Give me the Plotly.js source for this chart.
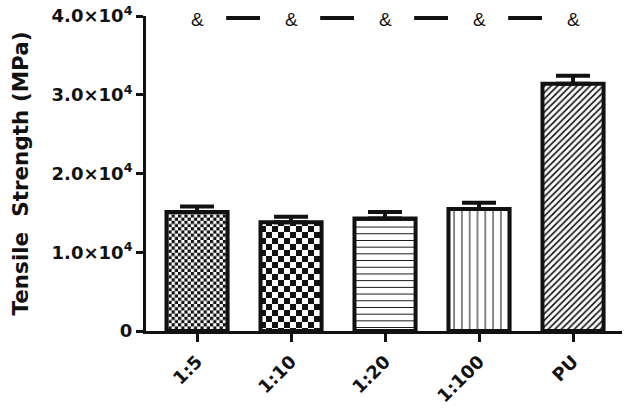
<!DOCTYPE html>
<html>
<head>
<meta charset="utf-8">
<script src="https://cdn.plot.ly/plotly-3.0.1.min.js"></script>
<style>html,body{margin:0;padding:0;background:#fff;}#chart{width:629px;height:409px;}</style>
</head>
<body>
<div id="chart"></div>
<script>
const categories = ["1:5", "1:10", "1:20", "1:100", "PU"];
const strength = [15100, 13800, 14300, 15500, 31400];
const strengthErr = [700, 700, 800, 800, 1000];
const patterns = [".", ".", "-", "|", "/"];
const patternSizes = [6.4, 12, 6.7, 7.8, 4.6];
const patternSolidity = [0.5, 0.5, 0.15, 0.13, 0.35];
const sigMarks = ["&", "&", "&", "&", "&"];
const yTickVals = [0, 10000, 20000, 30000, 40000];
const yTickText = ["0", "1.0×10<sup>4</sup>", "2.0×10<sup>4</sup>", "3.0×10<sup>4</sup>", "4.0×10<sup>4</sup>"];
const sigLevel = 39500;
const checkerTiles = [6.4, 12];

const idx = categories.map((c, i) => i);
const boldFont = "DejaVu Sans, Verdana, sans-serif";

const barTrace = {
  type: "bar",
  x: idx,
  y: strength,
  width: 0.65,
  marker: {
    color: "#ffffff",
    line: {color: "#111111", width: 4},
    pattern: {shape: patterns, size: patternSizes, solidity: patternSolidity, fgcolor: "#111111", bgcolor: "#ffffff", fillmode: "replace"}
  },
  error_y: {type: "data", array: strengthErr, arrayminus: strengthErr.map(() => 0), symmetric: false, color: "#111111", thickness: 4, width: 17},
  hoverinfo: "skip",
  showlegend: false
};

const dashX = [], dashY = [];
for (let i = 0; i < categories.length - 1; i++) {
  dashX.push(i + 0.31, i + 0.67, null);
  dashY.push(sigLevel + 250, sigLevel + 250, null);
}
const dashTrace = {
  type: "scatter", mode: "lines", x: dashX, y: dashY,
  line: {color: "#111111", width: 4}, hoverinfo: "skip", showlegend: false, cliponaxis: false
};

const annotations = sigMarks.map((m, i) => ({
  x: i, y: sigLevel, xref: "x", yref: "y", text: m, showarrow: false,
  font: {family: "Liberation Sans, Arial, sans-serif", size: 19, color: "#111111"},
  yanchor: "middle"
}));

const layout = {
  width: 629, height: 409,
  margin: {l: 146, r: 7, t: 16, b: 78},
  paper_bgcolor: "#ffffff", plot_bgcolor: "#ffffff",
  font: {family: boldFont, color: "#111111"},
  xaxis: {
    range: [-0.543, 4.521],
    tickvals: idx, ticktext: categories.map(c => "<b>" + c + "</b>"),
    tickangle: -45,
    ticks: "outside", ticklen: 8, tickwidth: 3, tickcolor: "#111111",
    ticklabelstandoff: 2,
    showline: true, linecolor: "#111111", linewidth: 3,
    showgrid: false, zeroline: false,
    tickfont: {family: boldFont, size: 18, color: "#111111"}
  },
  yaxis: {
    range: [0, 40000],
    tickvals: yTickVals, ticktext: yTickText.map(t => "<b>" + t + "</b>"),
    ticks: "outside", ticklen: 7, tickwidth: 3, tickcolor: "#111111",
    showline: true, linecolor: "#111111", linewidth: 3,
    showgrid: false, zeroline: false,
    tickfont: {family: boldFont, size: 18, color: "#111111"},
    title: {text: "<b>Tensile  Strength (MPa)</b>", font: {family: boldFont, size: 21.5, color: "#111111"}, standoff: 18}
  },
  annotations: annotations
};

const gd = document.getElementById("chart");
Plotly.newPlot(gd, [barTrace, dashTrace], layout, {displayModeBar: false, staticPlot: true}).then(() => {
  // restyle dot tiles as checkerboard tiles
  const NS = "http://www.w3.org/2000/svg";
  gd.querySelectorAll("pattern").forEach(p => {
    const w = parseFloat(p.getAttribute("width"));
    if (!checkerTiles.some(t => Math.abs(t - w) < 0.01)) return;
    while (p.firstChild) p.removeChild(p.firstChild);
    const h = w / 2;
    const bg = document.createElementNS(NS, "rect");
    bg.setAttribute("x", 0); bg.setAttribute("y", 0);
    bg.setAttribute("width", w); bg.setAttribute("height", w);
    bg.setAttribute("fill", "#ffffff");
    p.appendChild(bg);
    [[0, 0], [h, h]].forEach(([x, y]) => {
      const r = document.createElementNS(NS, "rect");
      r.setAttribute("x", x); r.setAttribute("y", y);
      r.setAttribute("width", h); r.setAttribute("height", h);
      r.setAttribute("fill", "#111111");
      p.appendChild(r);
    });
  });
});
</script>
</body>
</html>
